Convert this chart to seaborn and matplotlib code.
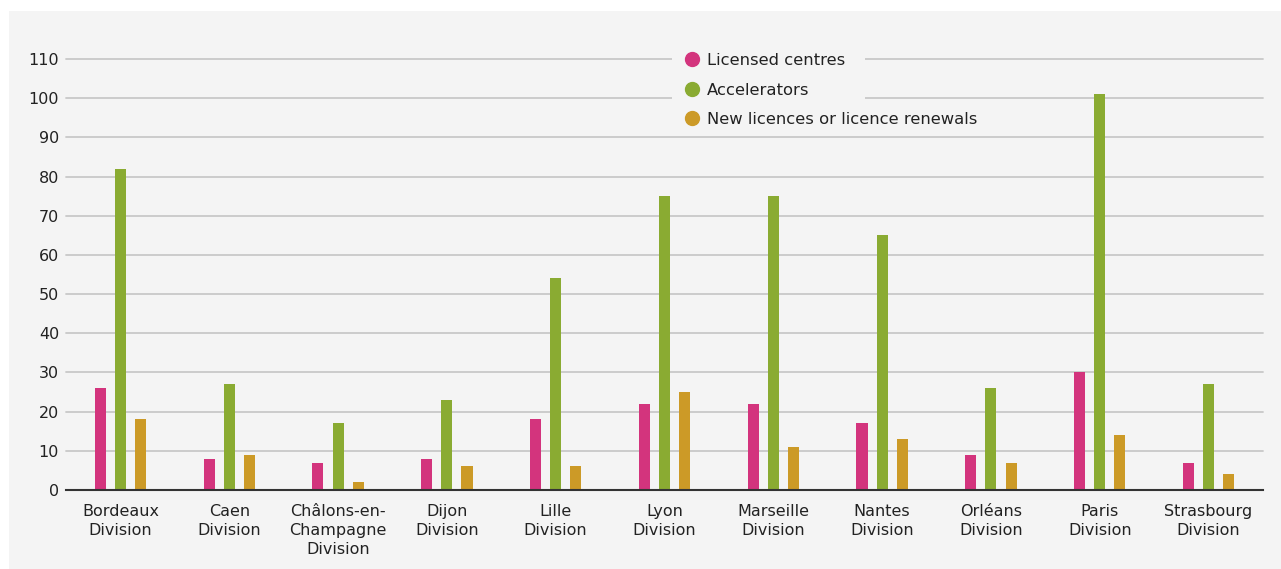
import numpy as np
import pandas as pd
import matplotlib.pyplot as plt
import seaborn as sns
from matplotlib.lines import Line2D
from matplotlib.patches import Rectangle

divisions = ['Bordeaux\nDivision', 'Caen\nDivision', 'Châlons-en-\nChampagne\nDivision',
             'Dijon\nDivision', 'Lille\nDivision', 'Lyon\nDivision', 'Marseille\nDivision',
             'Nantes\nDivision', 'Orléans\nDivision', 'Paris\nDivision', 'Strasbourg\nDivision']
licensed_centres = [26, 8, 7, 8, 18, 22, 22, 17, 9, 30, 7]
accelerators = [82, 27, 17, 23, 54, 75, 75, 65, 26, 101, 27]
new_licences = [18, 9, 2, 6, 6, 25, 11, 13, 7, 14, 4]
series_names = ['Licensed centres', 'Accelerators', 'New licences or licence renewals']
colors = ['#d3347d', '#8aab32', '#cc9a27']

df = pd.DataFrame({'division': divisions * 3,
                   'series': np.repeat(series_names, len(divisions)),
                   'value': licensed_centres + accelerators + new_licences})

sns.set_style('white')
plt.rcParams['font.family'] = ['DejaVu Sans']
bg = '#f4f4f4'

fig = plt.figure(figsize=(12.81, 5.69), dpi=100, facecolor='white')
fig.patches.append(Rectangle((9 / 1281, 0), 1, 1 - 11 / 569, transform=fig.transFigure,
                             facecolor=bg, edgecolor='none', zorder=-1))
ax = fig.add_axes([66 / 1281, 1 - 490 / 569, (1263 - 66) / 1281, (490 - 59) / 569])
ax.set_facecolor(bg)

sns.barplot(data=df, x='division', y='value', hue='series', palette=colors,
            saturation=1, width=0.555, gap=0.45, linewidth=0, ax=ax,
            legend=False, zorder=3)

ax.set_ylim(0, 110)
ax.set_xlim(-0.5, 10.5)
ax.set_yticks(range(0, 111, 10))
ax.yaxis.grid(True, color='#c8c8c8', linewidth=1.3, zorder=0, clip_on=False)
ax.set_axisbelow(True)
for s in ['top', 'right', 'left']:
    ax.spines[s].set_visible(False)
ax.spines['bottom'].set_color('#333333')
ax.spines['bottom'].set_linewidth(1.5)
ax.spines['bottom'].set_zorder(4)
ax.tick_params(axis='both', length=0, labelsize=11.5, colors='#222222')
ax.tick_params(axis='x', pad=10)
ax.tick_params(axis='y', pad=5)
for lab in ax.get_xticklabels():
    lab.set_linespacing(1.35)
ax.set_xlabel('')
ax.set_ylabel('')

# legend patch hides the top gridlines behind the first two entries
fig.patches.append(Rectangle((672 / 1281, 1 - 110 / 569), (865 - 672) / 1281, 65 / 569,
                             transform=fig.transFigure, facecolor=bg,
                             edgecolor='none', zorder=5))
handles = [Line2D([], [], marker='o', linestyle='none', markersize=10,
                  markerfacecolor=c, markeredgecolor=c) for c in colors]
leg = fig.legend(handles, series_names, loc='upper left',
                 bbox_to_anchor=(674 / 1281, 1 - 45 / 569), frameon=False,
                 fontsize=11.8, handletextpad=0.3, labelspacing=0.88,
                 borderpad=0, handlelength=1.2)
leg.set_zorder(6)
for t in leg.get_texts():
    t.set_color('#222222')

fig.savefig('out.png', dpi=100, facecolor='white')
